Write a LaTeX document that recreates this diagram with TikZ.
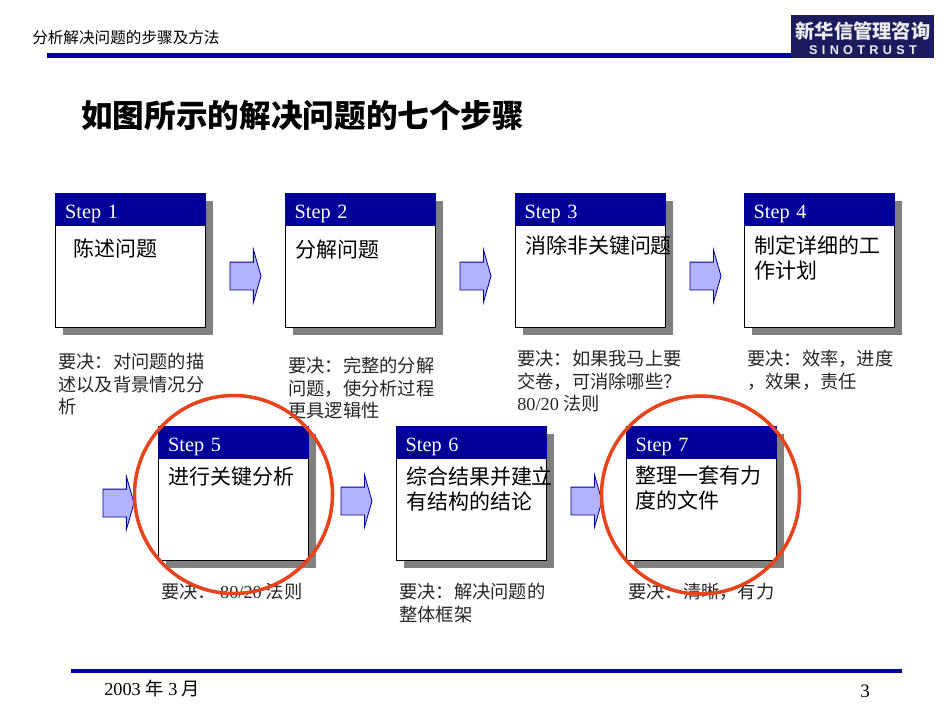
\documentclass[tikz,border=0pt]{standalone}
\usepackage{fontspec}
\setmainfont{Liberation Serif}
\newfontfamily\cjk{Noto Sans CJK SC}
\newfontfamily\logofont[LetterSpace=34]{Liberation Sans}
\usetikzlibrary{calc,shapes.arrows}
\definecolor{stepblue}{HTML}{000099}
\definecolor{arrowblue}{HTML}{B2B2FF}
\definecolor{logonavy}{HTML}{1B1B5E}
\definecolor{ringred}{HTML}{E8431A}
\tikzset{
	stepbody/.style={draw=black, line width=0.6pt, fill=white, minimum width=150*0.025cm, minimum height=134*0.025cm, anchor=north west, inner sep=0pt},
	stephead/.style={draw=stepblue, fill=stepblue, text=white, line width=0.3pt, text width=130*0.025cm, inner xsep=10*0.025cm, inner ysep=0pt, text height=25*0.025cm, text depth=7*0.025cm, anchor=north west, font=\fontsize{14.4}{16}\selectfont},
	stepshadow/.style={fill=black!50},
	steptitle/.style={anchor=west, inner sep=0pt, align=left, font=\cjk\fontsize{14.9}{17.8}\selectfont},
	stepnote/.style={anchor=north west, inner sep=0pt, align=left, font=\cjk\fontsize{13}{16}\selectfont, text=black!85},
	steparrow/.style={single arrow, draw=stepblue, fill=arrowblue, line width=0.6pt, minimum height=31*0.025cm, inner xsep=0pt, inner ysep=13.5*0.025cm, single arrow head extend=12.5*0.025cm, single arrow tip angle=148},
	ring/.style={draw=ringred, line width=2.5pt},
	rule/.style={fill=stepblue}
}
\newcommand{\stepcard}[3]{
	\fill[stepshadow] (#2+8, #3+8) rectangle +(150, 134);
	\node[stepbody] (card#1) at (#2, #3) {};
	\node[stephead] (head#1) at (#2, #3) {Step #1};
}
\begin{document}
\begin{tikzpicture}[x=0.025cm, y=-0.025cm]
	\useasboundingbox (0, 0) rectangle (950, 713);

	% header
	\fill[rule] (47, 53) rectangle (792, 58);
	\node[anchor=west, inner sep=0pt, font=\cjk\fontsize{11.1}{13}\selectfont] (section) at (32, 38) {分析解决问题的步骤及方法};
	\node[anchor=north west, fill=logonavy, minimum width=143*0.025cm, minimum height=43*0.025cm, inner sep=0pt] (logo) at (791, 15) {};
	\node[inner sep=0pt, text=black!8, font=\cjk\bfseries\fontsize{13.7}{15}\selectfont] (logocn) at (863, 31) {新华信管理咨询};
	\node[inner sep=0pt, text=black!8, font=\logofont\bfseries\fontsize{9}{10}\selectfont] (logoen) at (863, 50) {SINOTRUST};
	\node[anchor=west, inner sep=0pt, font=\cjk\bfseries\fontsize{22.5}{26}\selectfont] (title) at (81, 116) {如图所示的解决问题的七个步骤};

	% first row
	\stepcard{1}{55}{193}
	\stepcard{2}{284.5}{193}
	\stepcard{3}{514.5}{193}
	\stepcard{4}{743.5}{193}

	\node[steptitle] (task1) at (73, 248) {陈述问题};
	\node[steptitle] (task2) at (295, 250) {分解问题};
	\node[steptitle] (task3) at (525, 246) {消除非关键问题};
	\node[steptitle, anchor=north west] (task4) at (754, 235) {制定详细的工\\作计划};

	\node[steparrow] (arrow1) at (243.5, 276) {};
	\node[steparrow] (arrow2) at (473.5, 276) {};
	\node[steparrow] (arrow3) at (703.5, 276) {};

	\node[stepnote] (note1) at (58, 353) {要决：对问题的描\\述以及背景情况分\\析};
	\node[stepnote] (note2) at (288, 357) {要决：完整的分解\\问题，使分析过程\\更具逻辑性};
	\node[stepnote] (note3) at (517, 350) {要决：如果我马上要\\交卷，可消除哪些？\\{\rmfamily 80/20} 法则};
	\node[stepnote] (note4) at (747, 350) {要决：效率，进度\\，效果，责任};

	% second row
	\stepcard{5}{158}{426}
	\stepcard{6}{395.5}{426}
	\stepcard{7}{625.5}{426}

	\node[steptitle] (task5) at (168, 477) {进行关键分析};
	\node[steptitle, anchor=north west] (task6) at (406, 466) {综合结果并建立\\有结构的结论};
	\node[steptitle, anchor=north west] (task7) at (635, 466) {整理一套有力\\度的文件};

	\node[steparrow] (arrow4) at (116.5, 503) {};
	\node[steparrow] (arrow5) at (354.5, 501) {};
	\node[steparrow] (arrow6) at (584.5, 501) {};

	\node[stepnote] (note5) at (161, 583) {要决： {\rmfamily 80/20} 法则};
	\node[stepnote] (note6) at (399, 583) {要决：解决问题的\\整体框架};
	\node[stepnote] (note7) at (628, 583) {要决：清晰，有力};

	% rings
	\draw[ring] (233.5, 494.5) circle (99);
	\draw[ring] (700.5, 495) circle (99);

	% footer
	\fill[rule] (71, 669) rectangle (902, 673);
	\node[anchor=west, inner sep=0pt, font=\fontsize{13}{16}\selectfont] (date) at (104, 689) {2003 {\cjk 年} 3 {\cjk 月}};
	\node[inner sep=0pt, font=\fontsize{13.5}{16}\selectfont] (page) at (865, 691) {3};
\end{tikzpicture}
\end{document}
